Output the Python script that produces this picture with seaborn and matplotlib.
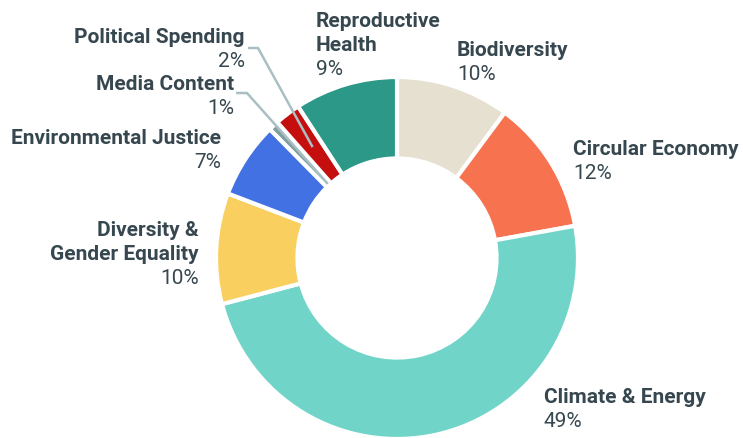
import numpy as np
import matplotlib
matplotlib.use("Agg")
import matplotlib.pyplot as plt
import seaborn as sns

# ---- data ----
categories = ["Biodiversity", "Circular Economy", "Climate & Energy",
              "Diversity &\nGender Equality", "Environmental Justice",
              "Media Content", "Political Spending", "Reproductive\nHealth"]
values = [10.15, 12.0, 48.75, 9.9, 6.8, 0.9, 2.3, 9.2]
colors = ["#E5E0D0", "#F7724F", "#70D5C8", "#F9CF60", "#4171E3",
          "#7F9EA0", "#C50F0F", "#2C9887"]

sns.set_theme(style="white")
plt.rcParams["font.family"] = ["Roboto", "DejaVu Sans"]

W, H = 743, 439
fig = plt.figure(figsize=(W / 100, H / 100), dpi=100)
ax = fig.add_axes([0, 0, 1, 1])

CX, CY, R = 397, 259, 181  # pixel centre / radius of the donut


def px2data(px, py):
    return (px - CX) / R, (CY - py) / R


wedges, _ = ax.pie(values, colors=colors, startangle=90, counterclock=False,
                   radius=1.0,
                   wedgeprops=dict(width=0.45, edgecolor="white", linewidth=3))

ax.set_xlim(px2data(0, 0)[0], px2data(W, 0)[0])
ax.set_ylim(px2data(0, H)[1], px2data(0, 0)[1])
ax.set_aspect("equal")
ax.axis("off")

total = sum(values)
pcts = [f"{round(v / total * 100)}%" for v in values]

TXT = "#36474F"
FS = 15
LINE = 24

# label layout: (x pixel, first baseline pixel, alignment)
layout = {
    0: (457, 56, "left"),
    1: (573, 155, "left"),
    2: (544, 403, "left"),
    3: (199, 236, "right"),
    4: (221, 144, "right"),
    5: (234, 90, "right"),
    6: (245, 43, "right"),
    7: (316, 27, "left"),
}

for i, (x, yb, ha) in layout.items():
    lines = categories[i].split("\n")
    for j, ln in enumerate(lines):
        fig.text(x / W, 1 - (yb + j * LINE) / H, ln, ha=ha, va="baseline",
                 fontsize=FS, fontweight="bold", color=TXT)
    fig.text(x / W, 1 - (yb + len(lines) * LINE) / H, pcts[i], ha=ha,
             va="baseline", fontsize=FS, color=TXT)

# leader lines for the thin slices
leaders = {6: ((248, 49), (258, 49), 0.77), 5: ((236, 94), (247, 94), 0.56)}
for i, (p0, p1, r) in leaders.items():
    w = wedges[i]
    ang = np.deg2rad((w.theta1 + w.theta2) / 2)
    end = (r * np.cos(ang), r * np.sin(ang))
    a = px2data(*p0)
    b = px2data(*p1)
    ax.plot([a[0], b[0], end[0]], [a[1], b[1], end[1]], color="#A9BFC4",
            lw=1.8, solid_capstyle="butt", zorder=5)

fig.savefig("out.png", dpi=100)
